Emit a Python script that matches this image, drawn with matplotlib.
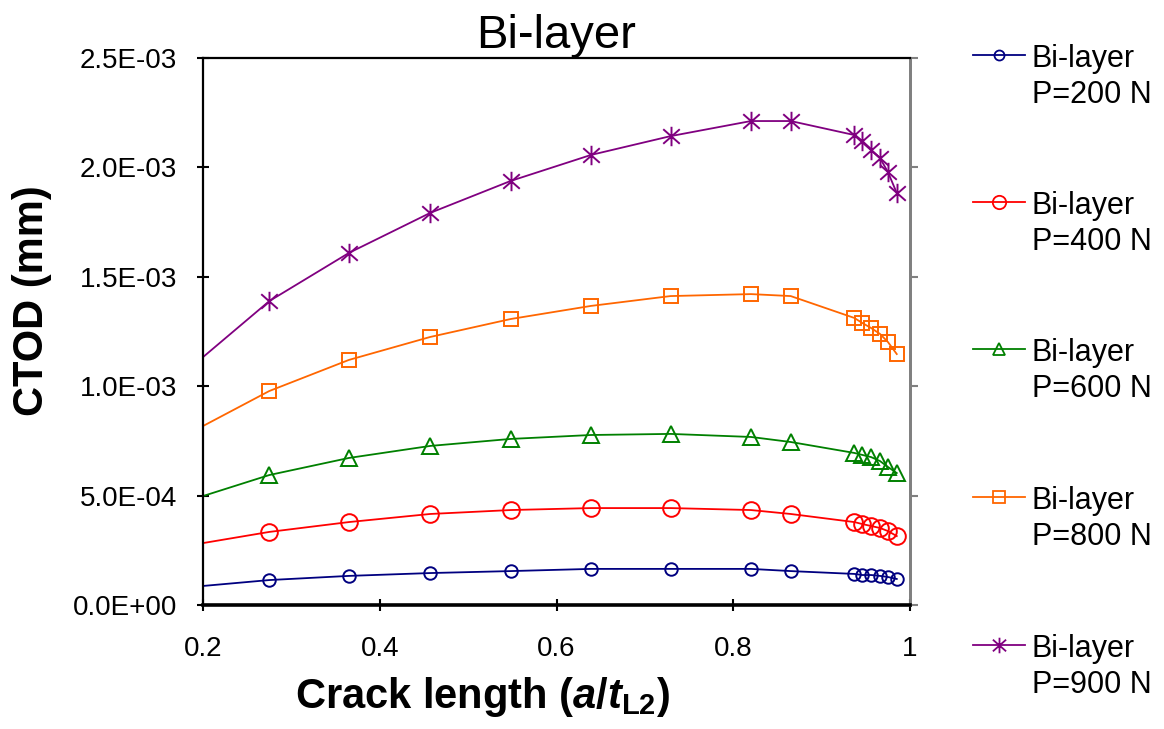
import numpy as np
import matplotlib
matplotlib.use("Agg")
import matplotlib.pyplot as plt
from matplotlib.lines import Line2D
from matplotlib.path import Path
from matplotlib.ticker import FuncFormatter

plt.rcParams['font.family'] = ['Liberation Sans', 'DejaVu Sans']
plt.rcParams['mathtext.fontset'] = 'custom'
plt.rcParams['mathtext.it'] = 'Liberation Sans:italic:bold'
plt.rcParams['mathtext.rm'] = 'Liberation Sans:bold'
plt.rcParams['mathtext.bf'] = 'Liberation Sans:bold'

# crack length a/tL2 (first point is where the curve enters the plot, no marker)
crack = [0.2, 0.275, 0.365, 0.457, 0.548, 0.639, 0.729, 0.82, 0.865,
         0.937, 0.946, 0.956, 0.966, 0.975, 0.985]

# CTOD in units of 1e-3 mm
ctod_200 = [0.087, 0.114, 0.133, 0.146, 0.155, 0.165, 0.165, 0.165, 0.155,
            0.142, 0.137, 0.137, 0.133, 0.128, 0.119]
ctod_400 = [0.283, 0.334, 0.379, 0.416, 0.434, 0.443, 0.443, 0.434, 0.416,
            0.379, 0.370, 0.361, 0.352, 0.338, 0.315]
ctod_600 = [0.498, 0.594, 0.672, 0.727, 0.759, 0.777, 0.782, 0.768, 0.745,
            0.695, 0.686, 0.676, 0.658, 0.631, 0.603]
ctod_800 = [0.818, 0.978, 1.120, 1.225, 1.307, 1.367, 1.412, 1.421, 1.412,
            1.312, 1.289, 1.266, 1.239, 1.202, 1.147]
ctod_900 = [1.133, 1.389, 1.609, 1.792, 1.938, 2.057, 2.143, 2.212, 2.212,
            2.148, 2.121, 2.080, 2.043, 1.979, 1.883]

# Excel-like star: vertical bar plus an X
star = Path([(0, -1), (0, 1), (-0.85, -0.75), (0.85, 0.75),
             (-0.85, 0.75), (0.85, -0.75)],
            [Path.MOVETO, Path.LINETO, Path.MOVETO, Path.LINETO,
             Path.MOVETO, Path.LINETO])

loads = ['200', '400', '600', '800', '900']
series = [ctod_200, ctod_400, ctod_600, ctod_800, ctod_900]
colors = ['#000080', '#FF0000', '#008000', '#FF6600', '#800080']
markers = ['o', 'o', '^', 's', star]
msizes = [9, 12, 11, 10, 14]

xticks = [0.2, 0.4, 0.6, 0.8, 1.0]
yticks = [0.0, 0.0005, 0.001, 0.0015, 0.002, 0.0025]

fig = plt.figure(figsize=(11.64, 7.29), dpi=100)
ax = fig.add_axes([0.1744, 0.1701, 0.6074, 0.7503])

for vals, c, m, ms in zip(series, colors, markers, msizes):
    ax.plot(crack, np.array(vals) * 1e-3, color=c, lw=1.3, marker=m, ms=ms,
            mfc='none', mec=c, mew=1.4, markevery=slice(1, None))

ax.set_xlim(0.2, 1.0)
ax.set_ylim(0, 0.0025)
ax.set_xticks(xticks)
ax.set_yticks(yticks)
ax.xaxis.set_major_formatter(FuncFormatter(lambda v, p: '%g' % v))
ax.yaxis.set_major_formatter(FuncFormatter(lambda v, p: '%.1E' % v))
ax.tick_params(axis='both', direction='inout', length=9, width=1.5,
               labelsize=20, color='black')
ax.tick_params(axis='y', pad=14)
ax.tick_params(axis='x', pad=18)

for s in ['left', 'top']:
    ax.spines[s].set_linewidth(1.6)
ax.spines['bottom'].set_linewidth(2.6)
ax.spines['right'].set_color('#808080')
ax.spines['right'].set_linewidth(2)

ax2 = ax.secondary_yaxis('right')
ax2.set_yticks(yticks)
ax2.tick_params(direction='out', length=6, width=1.5, colors='#808080',
                labelright=False)
ax2.spines['right'].set_color('#808080')
ax2.spines['right'].set_linewidth(2)

ax.set_title('Bi-layer', fontsize=34, pad=6)

fig.text(32 / 1164, 1 - 301 / 729, 'CTOD (mm)', rotation=90, fontsize=30,
         fontweight='bold', ha='center', va='center')
fig.text(483 / 1164, 1 - 697 / 729, 'Crack length ($a$/$t_{\\mathrm{L2}}$)',
         fontsize=30, fontweight='bold', ha='center', va='center')

# legend drawn by hand: handle aligned with first text line
leg_y = [55, 202, 349, 497, 645]
for ly, ld, c, m, ms in zip(leg_y, loads, colors, markers, msizes):
    yf = 1 - ly / 729
    fig.add_artist(Line2D([973 / 1164, 999 / 1164, 1025 / 1164], [yf, yf, yf],
                          transform=fig.transFigure, color=c, lw=1.3,
                          marker=m, ms=ms * 0.8, mfc='none', mec=c, mew=1.3,
                          markevery=[1]))
    fig.text(1032 / 1164, 1 - (ly + 12) / 729, 'Bi-layer', fontsize=22,
             ha='left', va='baseline')
    fig.text(1032 / 1164, 1 - (ly + 48) / 729, 'P=%s N' % ld, fontsize=22,
             ha='left', va='baseline')

fig.savefig('out.png', dpi=100)
